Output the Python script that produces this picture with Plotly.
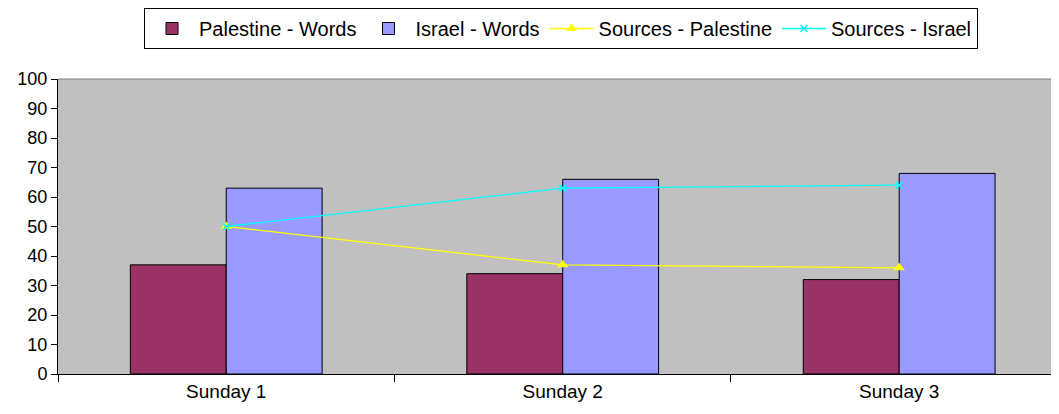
import plotly.graph_objects as go

days = ["Sunday 1", "Sunday 2", "Sunday 3"]
palestine_words = [37, 34, 32]
israel_words = [63, 66, 68]
sources_palestine = [50, 37, 36]
sources_israel = [50, 63, 64]

family = "Liberation Sans, Arial, sans-serif"

fig = go.Figure()
fig.add_trace(go.Bar(x=days, y=palestine_words, name="Palestine - Words",
                     marker=dict(color="#993366", line=dict(color="black", width=1))))
fig.add_trace(go.Bar(x=days, y=israel_words, name="Israel - Words",
                     marker=dict(color="#9999FF", line=dict(color="black", width=1))))
fig.add_trace(go.Scatter(x=days, y=sources_palestine, name="Sources - Palestine", mode="lines+markers",
                         line=dict(color="#FFFF00", width=1.3),
                         marker=dict(symbol="triangle-up", size=10, color="#FFFF00")))
fig.add_trace(go.Scatter(x=days, y=sources_israel, name="Sources - Israel", mode="lines+markers",
                         line=dict(color="#00FFFF", width=1.3),
                         marker=dict(symbol="x-thin", size=7, line=dict(color="#00FFFF", width=1.5))))

# the page body has an 8px margin, so the figure is sized/offset to land where the reference does
fig.update_layout(
    width=1051, height=406,
    margin=dict(l=50, r=0, t=71, b=40, autoexpand=False),
    paper_bgcolor="white", plot_bgcolor="#C0C0C0",
    font=dict(family=family, size=18, color="black"),
    barmode="group", bargap=0.43, bargroupgap=0,
    showlegend=True,
    legend=dict(orientation="h", x=0.5025, xanchor="center", yref="container", y=1.0, yanchor="top",
                bordercolor="black", borderwidth=1, bgcolor="white",
                font=dict(family=family, size=20, color="black"), itemwidth=44, tracegroupgap=0),
    shapes=[dict(type="line", xref="paper", yref="paper", x0=0, x1=1, y0=1, y1=1,
                 line=dict(color="#808080", width=1))],
)
# the reference's plot area runs past the right edge of the picture
fig.update_xaxes(range=[-0.5, 2.475], showline=True, linecolor="black", linewidth=1, ticks="outside",
                 ticklen=7, tickcolor="black", tickson="boundaries", showgrid=False, zeroline=False,
                 automargin=False, tickfont=dict(size=19))
fig.update_yaxes(range=[0, 100], dtick=10, showline=True, linecolor="black", linewidth=1,
                 ticks="outside", ticklen=6, tickcolor="black", showgrid=False, zeroline=False,
                 automargin=False)

fig.write_html("out.html")
